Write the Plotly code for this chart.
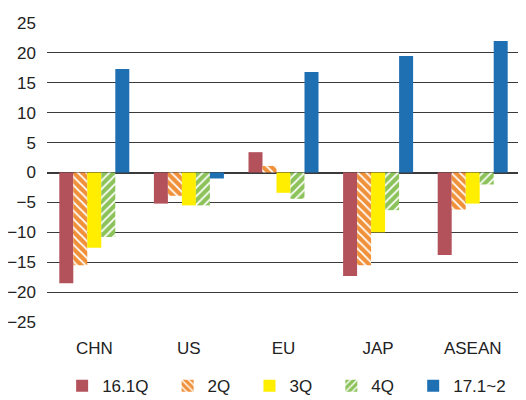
import plotly.graph_objects as go

categories = ["CHN", "US", "EU", "JAP", "ASEAN"]
s_161q = [-18.5, -5.2, 3.4, -17.3, -13.8]
s_2q = [-15.5, -3.9, 1.1, -15.5, -6.2]
s_3q = [-12.6, -5.5, -3.4, -10.0, -5.2]
s_4q = [-10.8, -5.5, -4.4, -6.3, -2.0]
s_171 = [17.3, -1.0, 16.8, 19.5, 22.0]
series_names = ["16.1Q", "2Q", "3Q", "4Q", "17.1~2"]
y_ticks = [25, 20, 15, 10, 5, 0, -5, -10, -15, -20, -25]

FONT = "Liberation Sans, Arial, sans-serif"
PAD = "\u00a0\u00a0\u00a0"  # extra spacing between legend entries

fig = go.Figure()
fig.add_trace(go.Bar(name=series_names[0] + PAD, x=categories, y=s_161q,
                     marker=dict(color="#B4525C", line=dict(width=0))))
fig.add_trace(go.Bar(name=series_names[1] + PAD, x=categories, y=s_2q,
                     marker=dict(color="#F0913A", line=dict(width=0),
                                 pattern=dict(shape="\\", fgcolor="white", bgcolor="#F0913A",
                                              fillmode="replace", size=6, solidity=0.3))))
fig.add_trace(go.Bar(name=series_names[2] + PAD, x=categories, y=s_3q,
                     marker=dict(color="#FFEE00", line=dict(width=0))))
fig.add_trace(go.Bar(name=series_names[3] + PAD, x=categories, y=s_4q,
                     marker=dict(color="#8CC25A", line=dict(width=0),
                                 pattern=dict(shape="/", fgcolor="white", bgcolor="#8CC25A",
                                              fillmode="replace", size=6, solidity=0.3))))
fig.add_trace(go.Bar(name=series_names[4], x=categories, y=s_171,
                     marker=dict(color="#1F6FB3", line=dict(width=0))))

# page body has an 8px margin; figure is sized so that it ends at the window edge
fig.update_layout(
    width=518, height=392,
    margin=dict(l=39, r=6, t=15, b=78, autoexpand=False),
    paper_bgcolor="white", plot_bgcolor="white",
    barmode="group", bargap=0.26, bargroupgap=0,
    font=dict(family=FONT, size=17, color="#222222"),
    showlegend=True,
    legend=dict(orientation="h", x=0.032, xanchor="left", y=-0.215, yanchor="middle",
                font=dict(size=17), itemwidth=30, traceorder="normal"),
    xaxis=dict(showgrid=False, showline=False, ticks="", ticklabelstandoff=14,
               tickfont=dict(size=17)),
    yaxis=dict(range=[-25, 25], tickvals=y_ticks, showgrid=True, gridcolor="#3a3a3a", gridwidth=1.3,
               zeroline=True, zerolinecolor="#3a3a3a", zerolinewidth=1.5,
               showline=False, ticks="", ticklabelstandoff=10, tickfont=dict(size=17)),
)

fig.write_html("out.html")
